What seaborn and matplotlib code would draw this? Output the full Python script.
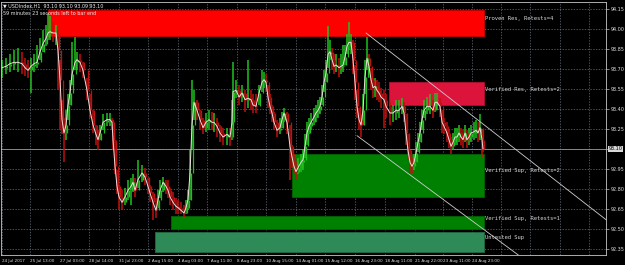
import matplotlib
matplotlib.use("Agg")
import matplotlib.pyplot as plt
import seaborn as sns
import pandas as pd

# ---------------- data ----------------
bar = [2, 6, 10, 14, 18, 22, 25, 28, 31, 34, 37, 40, 43, 46, 48, 50, 53, 56, 58, 60,
       62, 64, 66, 68, 70, 72, 75, 77, 80, 83, 87, 90, 93, 96, 98, 100, 103, 107, 110, 112,
       113, 115, 117, 119, 122, 125, 128, 131, 133, 135, 138, 142, 145, 148, 150, 153, 156, 158, 160, 163,
       166, 168, 170, 173, 176, 178, 181, 184, 186, 188, 190, 192, 194, 197, 200, 203, 206, 209, 212, 214,
       217, 220, 223, 227, 230, 232, 233, 236, 239, 242, 245, 248, 251, 253, 256, 259, 262, 264, 266, 268,
       270, 272, 274, 277, 280, 282, 284, 287, 290, 292, 294, 296, 298, 301, 303, 305, 307, 309, 311, 314,
       316, 318, 320, 322, 324, 326, 328, 330, 332, 334, 336, 339, 341, 343, 345, 347, 349, 351, 353, 355,
       357, 359, 361, 363, 365, 367, 369, 371, 373, 375, 377, 379, 381, 384, 386, 390, 393, 396, 399, 402,
       404, 406, 408, 410, 412, 414, 416, 418, 420, 422, 424, 427, 430, 433, 435, 437, 440, 442, 444, 447,
       449, 451, 453, 455, 457, 459, 461, 463, 465, 467, 469, 471, 474, 476, 478, 480, 482, 483]

close = [93.71, 93.72, 93.74, 93.75, 93.75, 93.74, 93.71, 93.69, 93.72, 93.74, 93.75, 93.83, 93.89, 93.93, 93.97, 93.98, 93.97, 93.97, 93.84, 93.62,
         93.32, 93.22, 93.28, 93.43, 93.52, 93.66, 93.75, 93.77, 93.75, 93.69, 93.54, 93.39, 93.28, 93.21, 93.17, 93.22, 93.30, 93.32, 93.32, 93.30,
         93.17, 92.97, 92.82, 92.74, 92.70, 92.74, 92.79, 92.82, 92.85, 92.79, 92.87, 92.92, 92.89, 92.82, 92.77, 92.70, 92.64, 92.72, 92.79, 92.85,
         92.82, 92.79, 92.74, 92.70, 92.67, 92.66, 92.64, 92.62, 92.66, 92.72, 92.92, 93.28, 93.45, 93.39, 93.32, 93.26, 93.30, 93.32, 93.30, 93.30,
         93.27, 93.22, 93.19, 93.21, 93.19, 93.30, 93.53, 93.54, 93.49, 93.52, 93.47, 93.48, 93.47, 93.43, 93.42, 93.52, 93.60, 93.62, 93.60, 93.49,
         93.42, 93.37, 93.30, 93.24, 93.26, 93.32, 93.37, 93.30, 93.12, 93.04, 92.97, 92.93, 92.96, 93.00, 93.02, 93.12, 93.22, 93.27, 93.30, 93.34,
         93.37, 93.39, 93.42, 93.49, 93.60, 93.67, 93.81, 93.83, 93.77, 93.72, 93.73, 93.71, 93.72, 93.73, 93.79, 93.87, 93.90, 93.90, 93.77, 93.60,
         93.42, 93.32, 93.28, 93.39, 93.64, 93.78, 93.72, 93.62, 93.56, 93.57, 93.54, 93.52, 93.49, 93.47, 93.42, 93.37, 93.37, 93.39, 93.39, 93.42,
         93.37, 93.22, 93.09, 93.00, 92.97, 93.00, 93.07, 93.15, 93.22, 93.32, 93.39, 93.42, 93.42, 93.39, 93.45, 93.45, 93.42, 93.30, 93.27, 93.22,
         93.17, 93.12, 93.15, 93.19, 93.19, 93.22, 93.19, 93.17, 93.22, 93.17, 93.19, 93.22, 93.23, 93.24, 93.22, 93.26, 93.17, 93.10]

high = [93.77, 93.78, 93.81, 93.84, 93.86, 93.83, 93.78, 93.77, 93.78, 93.81, 93.88, 93.93, 93.99, 94.03, 94.12, 94.10, 94.05, 94.03, 93.99, 93.77,
        93.47, 93.33, 93.39, 93.51, 93.62, 93.90, 93.94, 93.83, 93.81, 93.75, 93.63, 93.51, 93.39, 93.28, 93.24, 93.28, 93.36, 93.37, 93.37, 93.33,
        93.32, 93.17, 92.94, 92.83, 92.79, 92.81, 92.87, 92.88, 92.91, 92.88, 93.02, 92.98, 92.96, 92.88, 92.83, 92.78, 92.73, 92.79, 92.87, 92.89,
        92.87, 92.87, 92.81, 92.78, 92.73, 92.72, 92.70, 92.68, 92.72, 92.79, 93.09, 93.62, 93.54, 93.47, 93.39, 93.33, 93.37, 93.39, 93.38, 93.37,
        93.33, 93.28, 93.26, 93.26, 93.26, 93.47, 93.75, 93.62, 93.58, 93.58, 93.54, 93.77, 93.54, 93.51, 93.51, 93.58, 93.69, 93.68, 93.66, 93.58,
        93.51, 93.43, 93.38, 93.32, 93.33, 93.38, 93.41, 93.38, 93.28, 93.13, 93.06, 93.00, 93.03, 93.06, 93.09, 93.21, 93.30, 93.33, 93.37, 93.41,
        93.43, 93.47, 93.49, 93.58, 93.69, 93.77, 94.02, 93.92, 93.86, 93.81, 93.81, 93.78, 93.81, 93.88, 93.88, 93.96, 94.05, 93.96, 93.92, 93.73,
        93.54, 93.41, 93.36, 93.51, 93.77, 93.94, 93.81, 93.71, 93.63, 93.63, 93.62, 93.60, 93.56, 93.54, 93.51, 93.45, 93.43, 93.47, 93.47, 93.48,
        93.45, 93.36, 93.21, 93.09, 93.03, 93.06, 93.15, 93.22, 93.30, 93.39, 93.47, 93.49, 93.51, 93.47, 93.52, 93.52, 93.48, 93.39, 93.33, 93.30,
        93.24, 93.19, 93.22, 93.26, 93.26, 93.28, 93.26, 93.24, 93.28, 93.24, 93.26, 93.28, 93.30, 93.32, 93.30, 93.36, 93.24, 93.21]

low = [93.63, 93.66, 93.68, 93.69, 93.68, 93.66, 93.65, 93.63, 93.52, 93.68, 93.71, 93.77, 93.83, 93.87, 93.92, 93.92, 93.90, 93.88, 93.54, 93.24,
       93.21, 93.00, 93.17, 93.32, 93.43, 93.58, 93.69, 93.69, 93.68, 93.63, 93.47, 93.33, 93.22, 93.13, 93.09, 93.17, 93.24, 93.27, 93.27, 93.24,
       93.09, 92.91, 92.76, 92.64, 92.64, 92.68, 92.72, 92.68, 92.78, 92.74, 92.81, 92.85, 92.83, 92.76, 92.70, 92.57, 92.58, 92.66, 92.73, 92.78,
       92.76, 92.73, 92.68, 92.64, 92.61, 92.61, 92.61, 92.59, 92.61, 92.64, 92.72, 93.09, 93.32, 93.32, 93.24, 93.21, 93.23, 93.24, 93.24, 93.23,
       93.19, 93.15, 93.13, 93.13, 93.12, 93.17, 93.28, 93.48, 93.43, 93.45, 93.38, 93.41, 93.39, 93.37, 93.37, 93.43, 93.53, 93.56, 93.53, 93.41,
       93.36, 93.30, 93.24, 93.19, 93.21, 93.26, 93.30, 93.21, 92.87, 92.96, 92.91, 92.87, 92.91, 92.93, 92.94, 93.03, 93.13, 93.21, 93.24, 93.28,
       93.30, 93.33, 93.36, 93.43, 93.53, 93.60, 93.71, 93.77, 93.69, 93.66, 93.68, 93.64, 93.66, 93.68, 93.73, 93.81, 93.84, 93.81, 93.66, 93.47,
       93.33, 93.24, 93.19, 93.28, 93.51, 93.69, 93.63, 93.54, 93.48, 93.49, 93.47, 93.45, 93.41, 93.26, 93.33, 93.28, 93.30, 93.32, 93.33, 93.36,
       93.30, 93.13, 93.02, 92.91, 92.92, 92.94, 93.00, 93.08, 93.15, 93.24, 93.33, 93.36, 93.36, 93.33, 93.38, 93.39, 93.34, 93.22, 93.21, 93.15,
       93.11, 93.06, 93.09, 93.13, 93.13, 93.15, 93.13, 93.11, 93.15, 93.11, 93.13, 93.15, 93.17, 93.18, 93.15, 93.17, 93.04, 93.08]

tick_bars = [2, 30, 60, 89, 119, 148, 178, 207, 237, 266, 296, 325, 355, 385, 415, 443, 472, 501, 530, 560, 589]
tick_labels = ["24 Jul 2017", "25 Jul 13:00", "27 Jul 03:00", "28 Jul 14:00", "31 Jul 23:00",
               "2 Aug 15:00", "4 Aug 03:00", "7 Aug 11:00", "8 Aug 23:00", "10 Aug 15:00",
               "14 Aug 01:00", "15 Aug 12:00", "16 Aug 23:00", "18 Aug 11:00", "21 Aug 22:00",
               "23 Aug 11:00", "24 Aug 23:00", "", "", "", ""]
price_ticks = [92.35, 92.50, 92.65, 92.80, 92.95, 93.10, 93.25, 93.40, 93.55, 93.70, 93.85, 94.00, 94.15]

zone_names = ["Proven Res, Retests=4", "Verified Res, Retests=2", "Verified Sup, Retests=2",
              "Verified Sup, Retests=1", "Untested Sup"]
zone_start = [48, 389, 292, 171, 155]
zone_end = 484
zone_top = [94.14, 93.60, 93.06, 92.60, 92.48]
zone_bottom = [93.95, 93.43, 92.74, 92.50, 92.33]

upper_trend_bar = [366, 606]
upper_trend_price = [93.97, 92.57]
lower_trend_bar = [357, 521]
lower_trend_price = [93.20, 92.29]

current_price = 93.10
header = "\u25bc USDIndex,H1  93.10 93.10 93.09 93.10"
timer_text = "59 minutes 23 seconds left to bar end"

# ---------------- styling ----------------
zone_colors = ["#ff0000", "#dc143c", "#008000", "#008000", "#2e8b57"]
zone_edges = ["#c80000", "#b01030", "#006400", "#006400", "#226b44"]
label_prices = [94.08, 93.55, 92.94, 92.58, 92.44]

sns.set_theme(style="dark")
plt.rcParams["font.family"] = ["DejaVu Sans"]

fig = plt.figure(figsize=(6.25, 2.65), dpi=100, facecolor="black")
ax = fig.add_axes([1 / 625, 10 / 265, 605 / 625, 253 / 265])
ax.set_facecolor("black")

df = pd.DataFrame({"bar": bar, "close": close, "high": high, "low": low})
df["prev"] = df["close"].shift(1).fillna(df["close"].iloc[0])
df["up"] = df["close"] >= df["prev"]

# zones
for i, name in enumerate(zone_names):
    ax.fill_between([zone_start[i], zone_end], zone_bottom[i], zone_top[i],
                    facecolor=zone_colors[i], edgecolor=zone_edges[i], linewidth=0.6, zorder=1)
    ax.text(zone_end + 1, label_prices[i], name, color="#d8d8d8", fontsize=4.0,
            family="DejaVu Sans Mono", va="center", ha="left", zorder=5)

# candles (bars)
cols = ["#1fc01f" if u else "#c01010" for u in df["up"]]
ax.vlines(df["bar"], df["low"], df["high"], colors=cols, linewidth=1.1, zorder=2)
ax.vlines(df["bar"] + 1, df[["prev", "close"]].min(axis=1), df[["prev", "close"]].max(axis=1),
          colors=cols, linewidth=0.9, zorder=2)

# smoothed line
sns.lineplot(data=df, x="bar", y="close", ax=ax, color="#f0dede", linewidth=0.7, zorder=3)

# trend lines
ax.plot(upper_trend_bar, upper_trend_price, color="#cfcfcf", linewidth=0.6, zorder=4)
ax.plot(lower_trend_bar, lower_trend_price, color="#cfcfcf", linewidth=0.6, zorder=4)

# current price line
ax.axhline(current_price, color="#8e9aa6", linewidth=0.6, zorder=1.5)

ax.set_xlim(1, 606)
ax.set_ylim(92.305, 94.2025)

ax.set_xticks(tick_bars)
ax.set_xticklabels(tick_labels, ha="left", fontsize=3.0, color="#e0e0e0")
ax.set_yticks(price_ticks)
ax.set_yticklabels(["" if abs(p - current_price) < 1e-9 else "%.2f" % p for p in price_ticks],
                   fontsize=3.5, color="#e0e0e0")
ax.yaxis.tick_right()
ax.tick_params(axis="x", length=2, width=0.5, color="#c0c0c0", pad=1.2, direction="out")
ax.tick_params(axis="y", length=2, width=0.5, color="#c0c0c0", pad=1.5, direction="out")
ax.set_xlabel("")
ax.set_ylabel("")

ax.grid(True, color="#66707c", linestyle=(0, (2, 2)), linewidth=0.5)
ax.set_axisbelow(True)
for s in ax.spines.values():
    s.set_color("#c8c8c8")
    s.set_linewidth(0.6)
    s.set_visible(True)

# current price tag
ax.annotate("%.2f" % current_price, xy=(1.0, current_price), xycoords=("axes fraction", "data"),
            xytext=(2, 0), textcoords="offset points", fontsize=3.5, color="black",
            va="center", ha="left",
            bbox=dict(boxstyle="square,pad=0.15", facecolor="#d8d8d8", edgecolor="none"),
            annotation_clip=False)

# header texts
ax.text(0.004, 0.995, header, transform=ax.transAxes, fontsize=3.5, color="#e8e8e8",
        va="top", ha="left", zorder=6)
ax.text(0.004, 0.965, timer_text, transform=ax.transAxes, fontsize=3.5, color="#e8e8e8",
        va="top", ha="left", zorder=6)

fig.savefig("out.png", dpi=100, facecolor="black")
